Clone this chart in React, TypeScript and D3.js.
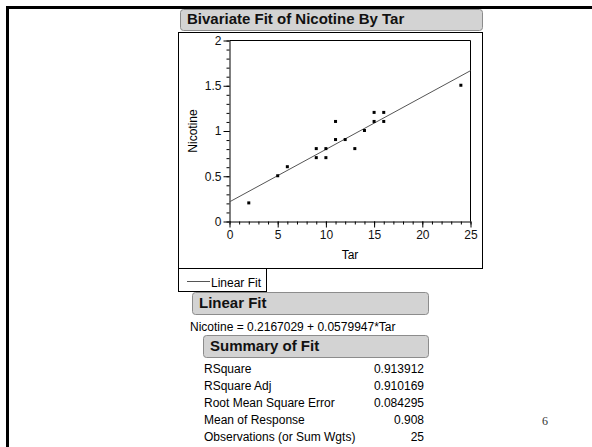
import { useEffect, useRef } from 'react';
import * as d3 from 'd3';

// Observations (overlapping duplicates drawn once)
const tar = [2, 5, 6, 9, 9, 10, 10, 11, 11, 12, 13, 14, 15, 15, 16, 16, 24];
const nicotine = [0.2, 0.5, 0.6, 0.8, 0.7, 0.8, 0.7, 1.1, 0.9, 0.9, 0.8, 1.0, 1.2, 1.1, 1.2, 1.1, 1.5];

const xTicks = [0, 5, 10, 15, 20, 25];
const yTicks = [0, 0.5, 1, 1.5, 2];

const intercept = 0.2167029;
const slope = 0.0579947;

const summaryLabels = ['RSquare', 'RSquare Adj', 'Root Mean Square Error', 'Mean of Response', 'Observations (or Sum Wgts)'];
const summaryValues = ['0.913912', '0.910169', '0.084295', '0.908', '25'];

const FONT = '"Liberation Sans", Arial, Helvetica, sans-serif';

export default function App() {
    const svgRef = useRef<SVGSVGElement>(null);

    useEffect(() => {
        const svg = d3.select(svgRef.current);
        svg.selectAll('*').remove();

        svg.append('rect').attr('width', 592).attr('height', 447).attr('fill', '#fff');

        // slide frame
        svg.append('path')
            .attr('d', 'M7.5,447V7.5H592')
            .attr('fill', 'none')
            .attr('stroke', '#000')
            .attr('stroke-width', 3);

        // rounded gray header bars
        const bar = (x: number, y: number, w: number, h: number, label: string) => {
            svg.append('rect')
                .attr('x', x + 0.5).attr('y', y + 0.5)
                .attr('width', w).attr('height', h)
                .attr('rx', 3)
                .attr('fill', '#d3d3d3')
                .attr('stroke', '#8c8c8c');
            svg.append('text')
                .attr('x', x + 7).attr('y', y + h - 6)
                .style('font-family', FONT)
                .style('font-size', '15px')
                .style('font-weight', 'bold')
                .attr('fill', '#111')
                .text(label);
        };

        bar(180, 9, 302, 21, 'Bivariate Fit of Nicotine By Tar');

        // plot frame + legend box
        svg.append('rect')
            .attr('x', 178.5).attr('y', 32.5).attr('width', 304).attr('height', 236)
            .attr('fill', 'none').attr('stroke', '#000');
        svg.append('rect')
            .attr('x', 178.5).attr('y', 268.5).attr('width', 88).attr('height', 23)
            .attr('fill', 'none').attr('stroke', '#000');
        svg.append('line')
            .attr('x1', 187).attr('x2', 210).attr('y1', 281.5).attr('y2', 281.5)
            .attr('stroke', '#555');
        svg.append('text')
            .attr('x', 211).attr('y', 287)
            .style('font-family', FONT).style('font-size', '12px')
            .text('Linear Fit');

        // scales
        const x = d3.scaleLinear().domain([0, 25]).range([229.5, 470.5]);
        const y = d3.scaleLinear().domain([0, 2]).range([221.5, 40.5]);

        const plot = svg.append('g');

        // top/right frame of the axes box
        plot.append('path')
            .attr('d', `M${x(0)},${y(2)}H${x(25)}V${y(0)}`)
            .attr('fill', 'none').attr('stroke', '#000');

        // minor ticks
        plot.append('g')
            .attr('transform', `translate(0,${y(0)})`)
            .call(d3.axisBottom(x).tickValues(d3.range(0, 26, 1)).tickSize(3).tickFormat(() => ''))
            .call((g) => g.select('.domain').remove());
        plot.append('g')
            .attr('transform', `translate(${x(0)},0)`)
            .call(d3.axisLeft(y).tickValues(d3.range(0, 2.01, 0.1)).tickSize(3).tickFormat(() => ''))
            .call((g) => g.select('.domain').remove());

        // major axes
        const xAxis = plot.append('g')
            .attr('transform', `translate(0,${y(0)})`)
            .call(d3.axisBottom(x).tickValues(xTicks).tickSize(6).tickSizeOuter(0).tickPadding(3));
        const yAxis = plot.append('g')
            .attr('transform', `translate(${x(0)},0)`)
            .call(d3.axisLeft(y).tickValues(yTicks).tickSize(6).tickSizeOuter(0).tickPadding(2).tickFormat((d) => String(d)));

        [xAxis, yAxis].forEach((a) => {
            a.selectAll('text').style('font-family', FONT).style('font-size', '12px').attr('fill', '#111');
        });
        plot.selectAll('.tick line').attr('stroke', '#000');

        // axis titles
        plot.append('text')
            .attr('x', (x(0) + x(25)) / 2).attr('y', 259)
            .attr('text-anchor', 'middle')
            .style('font-family', FONT).style('font-size', '12px')
            .text('Tar');
        plot.append('text')
            .attr('transform', `translate(197,${(y(0) + y(2)) / 2}) rotate(-90)`)
            .attr('text-anchor', 'middle')
            .style('font-family', FONT).style('font-size', '12px')
            .text('Nicotine');

        // fit line
        plot.append('line')
            .attr('x1', x(0)).attr('y1', y(intercept))
            .attr('x2', x(25)).attr('y2', y(intercept + slope * 25))
            .attr('stroke', '#555');

        // points
        plot.selectAll('.pt')
            .data(tar.map((t, i) => ({ t, n: nicotine[i] })))
            .enter()
            .append('rect')
            .attr('class', 'pt')
            .attr('x', (d) => x(d.t) - 1.5)
            .attr('y', (d) => y(d.n) - 2)
            .attr('width', 3)
            .attr('height', 3)
            .attr('fill', '#000');

        // Linear Fit report
        bar(192, 292, 236, 22, 'Linear Fit');
        svg.append('text')
            .attr('x', 190).attr('y', 331)
            .style('font-family', FONT).style('font-size', '12px')
            .text(`Nicotine = ${intercept} + ${slope}*Tar`);

        bar(203, 335, 225, 22, 'Summary of Fit');
        summaryLabels.forEach((label, i) => {
            const yy = 373 + i * 17;
            svg.append('text')
                .attr('x', 204).attr('y', yy)
                .style('font-family', FONT).style('font-size', '12px')
                .text(label);
            svg.append('text')
                .attr('x', 424).attr('y', yy)
                .attr('text-anchor', 'end')
                .style('font-family', FONT).style('font-size', '12px')
                .text(summaryValues[i]);
        });

        // page number
        svg.append('text')
            .attr('x', 542).attr('y', 425)
            .style('font-family', '"Liberation Serif", "Times New Roman", serif')
            .style('font-size', '12px')
            .attr('fill', '#333')
            .text('6');
    }, []);

    return (
        <svg
            ref={svgRef}
            width={592}
            height={447}
            style={{ position: 'absolute', left: 0, top: 0 }}
        ></svg>
    );
}
